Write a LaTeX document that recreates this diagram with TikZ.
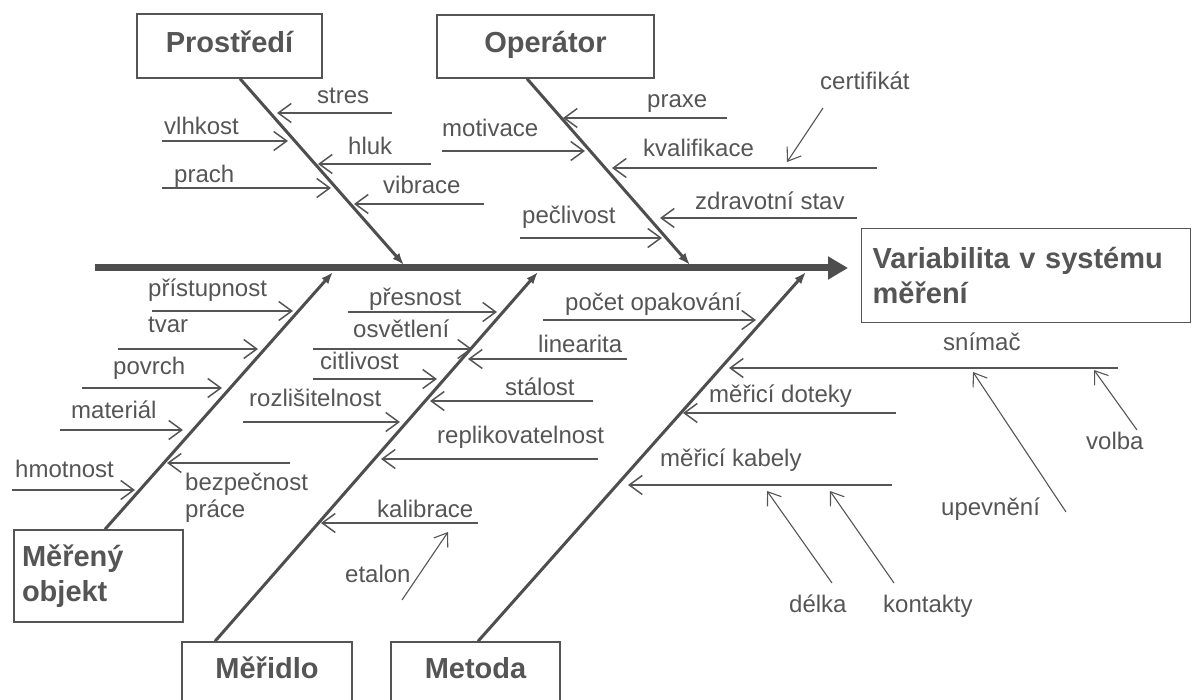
\documentclass[tikz,border=0pt]{standalone}
\usepackage{fontspec}
\setmainfont{Liberation Sans}
\usetikzlibrary{arrows.meta}
\definecolor{ink}{HTML}{555555}
\definecolor{bonegray}{HTML}{4E4E4E}
\tikzset{
  cat/.style={draw=ink, line width=1.4pt, text=ink, inner sep=0pt,
    font=\fontsize{29}{35}\selectfont\bfseries},
  lbl/.style={text=ink, inner sep=0pt, anchor=base west,
    font=\fontsize{24}{28}\selectfont},
  sub/.style={draw=ink, line width=1.5pt, -{Straight Barb[length=13pt,width=19pt]}},
  twig/.style={draw=ink, line width=1.1pt, -{Straight Barb[length=12pt,width=17pt]}},
  bone/.style={draw=bonegray, line width=3pt, -{Latex[length=12pt,width=9pt]}},
  spine/.style={draw=bonegray, line width=7pt, -{Triangle[length=20pt,width=22pt]}},
}
\begin{document}
\begin{tikzpicture}[x=1pt,y=-1pt]
    \useasboundingbox (0,0) rectangle (1192,700);
    \clip (0,0) rectangle (1192,700);

    \node[cat, anchor=base, minimum width=185pt, text height=39pt, text depth=25pt]
      (prostredi) at (229.5,53) {Prostředí};
    \node[cat, anchor=base, minimum width=217pt, text height=38pt, text depth=25pt]
      (operator) at (545.5,53) {Operátor};
    \node[cat, anchor=north west, minimum height=94pt, align=left, text width=307pt,
      inner xsep=11pt] (effect) at (861,228) {Variabilita v systému\\měření};
    \node[cat, minimum height=92pt, align=left, text width=153pt, inner xsep=8pt]
      (mereny) at (98.5,576) {Měřený\\objekt};
    \node[cat, anchor=base, minimum width=170pt, text height=36pt, text depth=34pt]
      (meridlo) at (267,678) {Měřidlo};
    \node[cat, anchor=base, minimum width=169pt, text height=36pt, text depth=34pt]
      (metoda) at (475.5,678) {Metoda};

    \coordinate (tail) at (95,268);
    \draw[spine, shorten >=13pt] (tail) -- (tail -| effect.west);

    \coordinate (pr-end) at (404,265);
    \coordinate (op-end) at (690,265);
    \coordinate (mo-end) at (333,272);
    \coordinate (md-end) at (538,272);
    \coordinate (me-end) at (806,272);
    \draw[bone] ([xshift=10.5pt]prostredi.south) -- (pr-end);
    \draw[bone] ([xshift=-18.5pt]operator.south) -- (op-end);
    \draw[bone] ([xshift=6.5pt]mereny.north) -- (mo-end);
    \draw[bone] ([xshift=-52pt]meridlo.north) -- (md-end);
    \draw[bone] ([xshift=2.5pt]metoda.north) -- (me-end);

    \coordinate (stres-a) at (392,113);    \coordinate (stres-b) at (277,113);
    \draw[sub] (stres-a) -- (stres-b);
    \node[lbl] (stres) at (317,104) {stres};
    \coordinate (vlhkost-a) at (162,141);  \coordinate (vlhkost-b) at (288,141);
    \draw[sub] (vlhkost-a) -- (vlhkost-b);
    \node[lbl] (vlhkost) at (164,135) {vlhkost};
    \coordinate (hluk-a) at (431,164);     \coordinate (hluk-b) at (318,164);
    \draw[sub] (hluk-a) -- (hluk-b);
    \node[lbl] (hluk) at (348,155) {hluk};
    \coordinate (prach-a) at (162,188);    \coordinate (prach-b) at (331,188);
    \draw[sub] (prach-a) -- (prach-b);
    \node[lbl] (prach) at (174,183) {prach};
    \coordinate (vibrace-a) at (484,204);  \coordinate (vibrace-b) at (354,204);
    \draw[sub] (vibrace-a) -- (vibrace-b);
    \node[lbl] (vibrace) at (383,194) {vibrace};

    \coordinate (praxe-a) at (727,118);    \coordinate (praxe-b) at (563,118);
    \draw[sub] (praxe-a) -- (praxe-b);
    \node[lbl] (praxe) at (647,108) {praxe};
    \coordinate (motivace-a) at (442,151); \coordinate (motivace-b) at (585,151);
    \draw[sub] (motivace-a) -- (motivace-b);
    \node[lbl] (motivace) at (442,137) {motivace};
    \coordinate (kvalif-a) at (877,168);   \coordinate (kvalif-b) at (612,168);
    \draw[sub] (kvalif-a) -- (kvalif-b);
    \node[lbl] (kvalif) at (643,157) {kvalifikace};
    \coordinate (certif-a) at (823,108);   \coordinate (certif-b) at (787,162);
    \draw[twig] (certif-a) -- (certif-b);
    \node[lbl] (certif) at (820,90) {certifikát};
    \coordinate (zdravi-a) at (857,218);   \coordinate (zdravi-b) at (660,218);
    \draw[sub] (zdravi-a) -- (zdravi-b);
    \node[lbl] (zdravi) at (695,210) {zdravotní stav};
    \coordinate (peclivost-a) at (520,238); \coordinate (peclivost-b) at (662,238);
    \draw[sub] (peclivost-a) -- (peclivost-b);
    \node[lbl] (peclivost) at (522,224) {pečlivost};

    \coordinate (pristup-a) at (152,311);  \coordinate (pristup-b) at (293,311);
    \draw[sub] (pristup-a) -- (pristup-b);
    \node[lbl] (pristup) at (148,297) {přístupnost};
    \coordinate (tvar-a) at (118,349);     \coordinate (tvar-b) at (258,349);
    \draw[sub] (tvar-a) -- (tvar-b);
    \node[lbl] (tvar) at (148,333) {tvar};
    \coordinate (povrch-a) at (82,388);    \coordinate (povrch-b) at (222,388);
    \draw[sub] (povrch-a) -- (povrch-b);
    \node[lbl] (povrch) at (113,375) {povrch};
    \coordinate (material-a) at (60,430);  \coordinate (material-b) at (183,430);
    \draw[sub] (material-a) -- (material-b);
    \node[lbl] (material) at (71,419) {materiál};
    \coordinate (hmotnost-a) at (12,490);  \coordinate (hmotnost-b) at (135,490);
    \draw[sub] (hmotnost-a) -- (hmotnost-b);
    \node[lbl] (hmotnost) at (15,478) {hmotnost};
    \coordinate (bezpec-a) at (290,463);   \coordinate (bezpec-b) at (167,463);
    \draw[sub] (bezpec-a) -- (bezpec-b);
    \node[lbl, align=left] (bezpec) at (185,518) {bezpečnost\\práce};

    \coordinate (presnost-a) at (348,312); \coordinate (presnost-b) at (497,312);
    \draw[sub] (presnost-a) -- (presnost-b);
    \node[lbl] (presnost) at (369,306) {přesnost};
    \coordinate (osvetleni-a) at (313,349); \coordinate (osvetleni-b) at (472,349);
    \draw[sub] (osvetleni-a) -- (osvetleni-b);
    \node[lbl] (osvetleni) at (353,338) {osvětlení};
    \coordinate (linearita-a) at (627,359); \coordinate (linearita-b) at (468,359);
    \draw[sub] (linearita-a) -- (linearita-b);
    \node[lbl] (linearita) at (538,353) {linearita};
    \coordinate (citlivost-a) at (313,379); \coordinate (citlivost-b) at (437,379);
    \draw[sub] (citlivost-a) -- (citlivost-b);
    \node[lbl] (citlivost) at (320,370) {citlivost};
    \coordinate (stalost-a) at (593,401);  \coordinate (stalost-b) at (430,401);
    \draw[sub] (stalost-a) -- (stalost-b);
    \node[lbl] (stalost) at (505,396) {stálost};
    \coordinate (rozlis-a) at (243,422);   \coordinate (rozlis-b) at (400,422);
    \draw[sub] (rozlis-a) -- (rozlis-b);
    \node[lbl] (rozlis) at (249,407) {rozlišitelnost};
    \coordinate (replik-a) at (598,459);   \coordinate (replik-b) at (381,459);
    \draw[sub] (replik-a) -- (replik-b);
    \node[lbl] (replik) at (437,444) {replikovatelnost};
    \coordinate (kalibrace-a) at (478,523); \coordinate (kalibrace-b) at (321,523);
    \draw[sub] (kalibrace-a) -- (kalibrace-b);
    \node[lbl] (kalibrace) at (377,517) {kalibrace};
    \coordinate (etalon-a) at (402,600);   \coordinate (etalon-b) at (448,532);
    \draw[twig] (etalon-a) -- (etalon-b);
    \node[lbl] (etalon) at (345,582) {etalon};

    \coordinate (pocet-a) at (543,320);    \coordinate (pocet-b) at (756,320);
    \draw[sub] (pocet-a) -- (pocet-b);
    \node[lbl] (pocet) at (565,311) {počet opakování};
    \coordinate (snimac-a) at (1118,368);  \coordinate (snimac-b) at (729,368);
    \draw[sub] (snimac-a) -- (snimac-b);
    \node[lbl] (snimac) at (943,351) {snímač};
    \coordinate (volba-a) at (1137,430);   \coordinate (volba-b) at (1094,370);
    \draw[twig] (volba-a) -- (volba-b);
    \node[lbl] (volba) at (1086,450) {volba};
    \coordinate (upevneni-a) at (1066,512); \coordinate (upevneni-b) at (973,372);
    \draw[twig] (upevneni-a) -- (upevneni-b);
    \node[lbl] (upevneni) at (941,515) {upevnění};
    \coordinate (doteky-a) at (896,413);   \coordinate (doteky-b) at (683,413);
    \draw[sub] (doteky-a) -- (doteky-b);
    \node[lbl] (doteky) at (709,403) {měřicí doteky};
    \coordinate (kabely-a) at (892,485);   \coordinate (kabely-b) at (628,485);
    \draw[sub] (kabely-a) -- (kabely-b);
    \node[lbl] (kabely) at (660,467) {měřicí kabely};
    \coordinate (delka-a) at (832,583);    \coordinate (delka-b) at (767,491);
    \draw[twig] (delka-a) -- (delka-b);
    \node[lbl] (delka) at (789,612) {délka};
    \coordinate (kontakty-a) at (894,583); \coordinate (kontakty-b) at (830,491);
    \draw[twig] (kontakty-a) -- (kontakty-b);
    \node[lbl] (kontakty) at (883,612) {kontakty};
\end{tikzpicture}
\end{document}
